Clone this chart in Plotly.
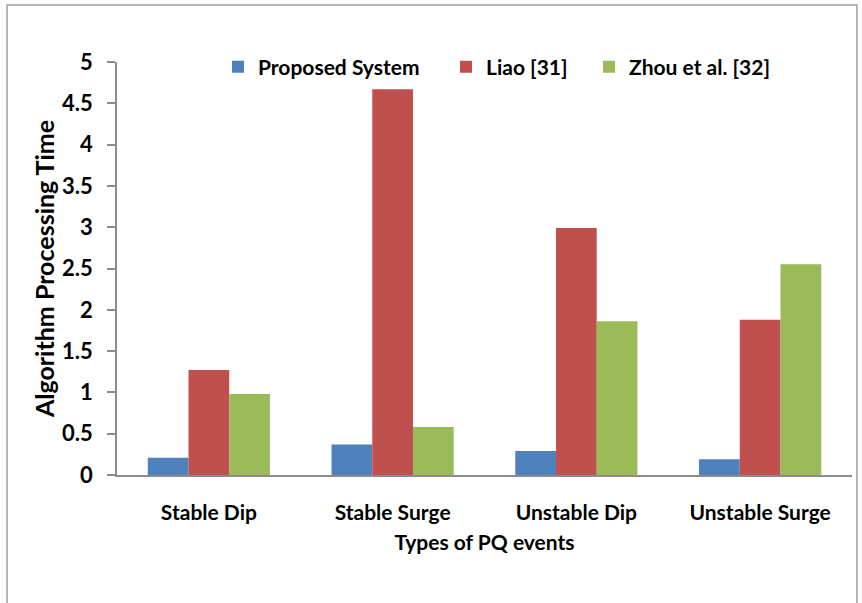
import plotly.graph_objects as go

categories = ["Stable Dip", "Stable Surge", "Unstable Dip", "Unstable Surge"]
proposed = [0.21, 0.37, 0.29, 0.19]
liao = [1.27, 4.67, 2.99, 1.88]
zhou = [0.98, 0.58, 1.86, 2.55]
series_names = ["Proposed System", "Liao [31]", "Zhou et al. [32]"]
colors = ["#4F81BD", "#C0504D", "#9BBB59"]

FONT = "Lato"
W, H = 862, 603
L, R, T, B = 117, 10, 62, 128
pw, ph = W - L - R, H - T - B

legend_ids = ["legend", "legend2", "legend3"]
legend_px = [218, 446, 589]

fig = go.Figure()
for name, vals, c, lg in zip(series_names, [proposed, liao, zhou], colors, legend_ids):
    fig.add_trace(go.Bar(x=categories, y=vals, name=name, legend=lg,
                         marker=dict(color=c, line=dict(width=0))))

def px_to_paper(x, y):
    return (x - L) / pw, (H - B - y) / ph

x0, y0 = px_to_paper(7, 5)
x1, y1 = px_to_paper(857, 606)

legend_font = dict(size=21, family=FONT, weight="bold", color="black")
legends = {}
for lg, lx in zip(legend_ids, legend_px):
    legends[lg] = dict(orientation="h", x=(lx - L) / pw, xanchor="left",
                       y=(H - B - 67) / ph, yanchor="middle",
                       font=legend_font, bgcolor="rgba(0,0,0,0)", itemclick=False)

fig.update_layout(
    width=W, height=H,
    margin=dict(l=L, r=R, t=T, b=B),
    paper_bgcolor="white", plot_bgcolor="white",
    barmode="group", bargap=0.335, bargroupgap=0,
    font=dict(family=FONT, color="black", size=21, weight="bold"),
    showlegend=True,
    xaxis=dict(showline=True, linecolor="#8C8C8C", linewidth=1.5, ticks="", showgrid=False,
               tickfont=dict(size=21, family=FONT, weight="bold"), ticklabelstandoff=18,
               title=dict(text="Types of PQ events", font=dict(size=21, family=FONT, weight="bold"), standoff=12)),
    yaxis=dict(range=[0, 5], dtick=0.5, showline=True, linecolor="#8C8C8C", linewidth=1.5,
               ticks="outside", ticklen=8, tickcolor="#8C8C8C", tickwidth=1.5, showgrid=False, zeroline=False,
               tickfont=dict(size=22, family=FONT, weight="bold"), ticklabelstandoff=10,
               title=dict(text="Algorithm Processing Time", font=dict(size=25, family=FONT, weight="bold"), standoff=0)),
    shapes=[dict(type="rect", xref="paper", yref="paper", x0=x0, y0=y1, x1=x1, y1=y0,
                 line=dict(color="#A0A0A0", width=1.5), fillcolor="rgba(0,0,0,0)", layer="below")],
    **legends,
)

fig.write_html("out.html")
